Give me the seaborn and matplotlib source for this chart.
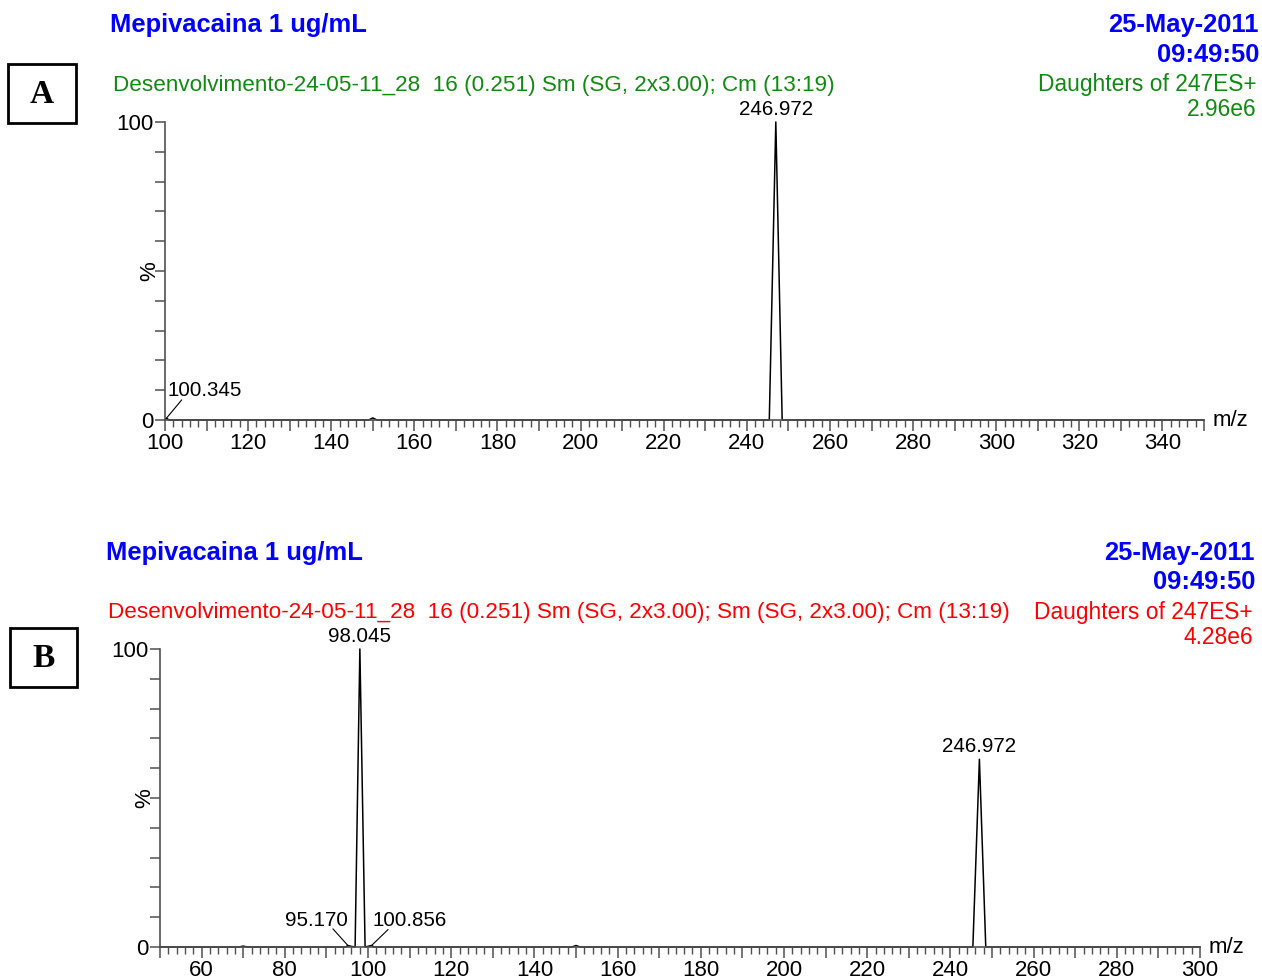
import matplotlib
matplotlib.use("Agg")
import matplotlib.pyplot as plt
import pandas as pd
import seaborn as sns
from matplotlib.patches import Rectangle
from matplotlib.ticker import FuncFormatter, MultipleLocator

# ---- data ----
title = "Mepivacaina 1 ug/mL"
date_txt = "25-May-2011"
time_txt = "09:49:50"
daughters = "Daughters of 247ES+"

info_a = "Desenvolvimento-24-05-11_28  16 (0.251) Sm (SG, 2x3.00); Cm (13:19)"
scale_a = "2.96e6"
mz_a = [100.0, 100.345, 101.0, 149.0, 150.0, 151.0, 245.4, 246.972, 248.5, 350.0]
pct_a = [0.0, 0.6, 0.0, 0.0, 0.7, 0.0, 0.0, 100.0, 0.0, 0.0]
peaks_a = [("246.972", 246.972, 100.0)]
minor_a = [("100.345", 100.345, 0.6)]

info_b = "Desenvolvimento-24-05-11_28  16 (0.251) Sm (SG, 2x3.00); Sm (SG, 2x3.00); Cm (13:19)"
scale_b = "4.28e6"
mz_b = [50.0, 69.0, 70.0, 71.0, 94.6, 95.17, 96.0, 96.9, 98.045, 99.3, 100.2,
        100.856, 101.5, 149.0, 150.0, 151.0, 245.4, 246.972, 248.5, 300.0]
pct_b = [0.0, 0.0, 0.3, 0.0, 0.0, 0.5, 0.2, 0.0, 100.0, 0.0, 0.3,
         0.5, 0.0, 0.0, 0.5, 0.0, 0.0, 63.0, 0.0, 0.0]
peaks_b = [("98.045", 98.045, 100.0), ("246.972", 246.972, 63.0)]
minor_b = [("95.170", 95.17, 0.5), ("100.856", 100.856, 0.5)]

W, H = 1262, 980
blue = "#0000ff"
green = "#118a11"
red = "#ff0000"
grey = "#505050"

sns.set_style("white")
plt.rcParams["font.family"] = ["Liberation Sans", "DejaVu Sans"]
plt.rcParams["text.color"] = "black"
plt.rcParams["xtick.color"] = "black"
plt.rcParams["ytick.color"] = "black"

fig = plt.figure(figsize=(W / 100, H / 100), dpi=100)


def px(x, y):
    return x / W, 1 - y / H


def axes_px(left, top, right, bottom):
    return fig.add_axes([left / W, 1 - bottom / H, (right - left) / W, (bottom - top) / H])


def style_axes(ax, xmin, xmax):
    ax.set_xlim(xmin, xmax)
    ax.set_ylim(0, 100)
    for s in ("top", "right"):
        ax.spines[s].set_visible(False)
    for s in ("left", "bottom"):
        ax.spines[s].set_color(grey)
        ax.spines[s].set_linewidth(1.2)
    ax.xaxis.set_major_locator(MultipleLocator(10))
    ax.xaxis.set_minor_locator(MultipleLocator(2))
    ax.xaxis.set_major_formatter(FuncFormatter(lambda v, p: f"{v:.0f}" if round(v) % 20 == 0 else ""))
    ax.yaxis.set_major_locator(MultipleLocator(10))
    ax.yaxis.set_major_formatter(FuncFormatter(lambda v, p: f"{v:.0f}" if round(v) in (0, 100) else ""))
    ax.tick_params(axis="x", which="major", direction="out", length=8, width=1.1,
                   color=grey, labelcolor="black", labelsize=16, pad=1.5, bottom=True)
    ax.tick_params(axis="x", which="minor", direction="out", length=5, width=1.0,
                   color=grey, bottom=True)
    ax.tick_params(axis="y", which="major", direction="out", length=7, width=1.1,
                   color=grey, labelcolor="black", labelsize=16, pad=1.5, left=True)
    ax.set_xlabel("")
    ax.set_ylabel("")
    ax.text(-0.015, 0.5, "%", rotation=90, transform=ax.transAxes,
            ha="center", va="center", fontsize=16)
    ax.text(1.008, 0.0, "m/z", transform=ax.transAxes, ha="left", va="center", fontsize=16)


def draw_trace(ax, mz, pct):
    df = pd.DataFrame({"mz": mz, "pct": pct})
    sns.lineplot(data=df, x="mz", y="pct", ax=ax, color="black", linewidth=1.1,
                 estimator=None, sort=False)
    for ln in ax.lines:
        ln.set_clip_on(False)


def label_peaks(ax, peaks, minors, offsets):
    for txt, x, y in peaks:
        ax.annotate(txt, xy=(x, y), xytext=(0, 2), textcoords="offset points",
                    ha="center", va="bottom", fontsize=14.8)
    # small peaks: label plus a separate leader line
    for (txt, x, y), (tdx, tdy, ha, ldx, ldy) in zip(minors, offsets):
        ax.annotate(txt, xy=(x, y), xytext=(tdx, tdy), textcoords="offset points",
                    ha=ha, va="baseline", fontsize=14.8)
        ax.annotate("", xy=(x, y), xytext=(ldx, ldy), textcoords="offset points",
                    arrowprops=dict(arrowstyle="-", color="black", lw=0.8,
                                    shrinkA=0, shrinkB=0))


def header(y_title, x_title, y_date, y_time, x_right, y_info, x_info, info,
           info_color, scale_txt, y_daug, y_scale, x_right_info):
    fig.text(*px(x_title, y_title), title, color=blue, fontsize=18.4, fontweight="bold",
             ha="left", va="center")
    fig.text(*px(x_right, y_date), date_txt, color=blue, fontsize=18.4, fontweight="bold",
             ha="right", va="center")
    fig.text(*px(x_right, y_time), time_txt, color=blue, fontsize=18.4, fontweight="bold",
             ha="right", va="center")
    fig.text(*px(x_info, y_info), info, color=info_color, fontsize=16.2, ha="left", va="center")
    fig.text(*px(x_right_info, y_daug), daughters, color=info_color, fontsize=16.4,
             ha="right", va="center")
    fig.text(*px(x_right_info, y_scale), scale_txt, color=info_color, fontsize=16.4,
             ha="right", va="center")


def letter_box(x0, y0, x1, y1, letter):
    fig.patches.append(Rectangle(px(x0, y1), (x1 - x0) / W, (y1 - y0) / H,
                                 transform=fig.transFigure, fill=False,
                                 edgecolor="black", linewidth=2))
    fig.text(*px((x0 + x1) / 2, (y0 + y1) / 2 + 1), letter, fontsize=24, fontweight="bold",
             family=["Liberation Serif", "DejaVu Serif"], ha="center", va="center")


# ---- panel A ----
ax_a = axes_px(165, 122, 1204, 420)
draw_trace(ax_a, mz_a, pct_a)
style_axes(ax_a, 100, 350)
label_peaks(ax_a, peaks_a, minor_a, [(1.1, 15.8, "left", 11, 13.2)])
header(25, 110, 25, 55, 1259, 85, 113, info_a, green, scale_a, 85, 110, 1257)
letter_box(8, 64, 76, 123, "A")

# ---- panel B ----
ax_b = axes_px(160, 649, 1200, 947)
draw_trace(ax_b, mz_b, pct_b)
style_axes(ax_b, 50, 300)
label_peaks(ax_b, peaks_b, minor_b,
            [(0.2, 14.4, "right", -10.8, 12), (1.0, 14.4, "left", 11.9, 11.5)])
header(553, 106, 553, 582, 1255, 612, 108, info_b, red, scale_b, 612, 637, 1253)
letter_box(10, 628, 77, 687, "B")

fig.savefig("out.png", dpi=100)
